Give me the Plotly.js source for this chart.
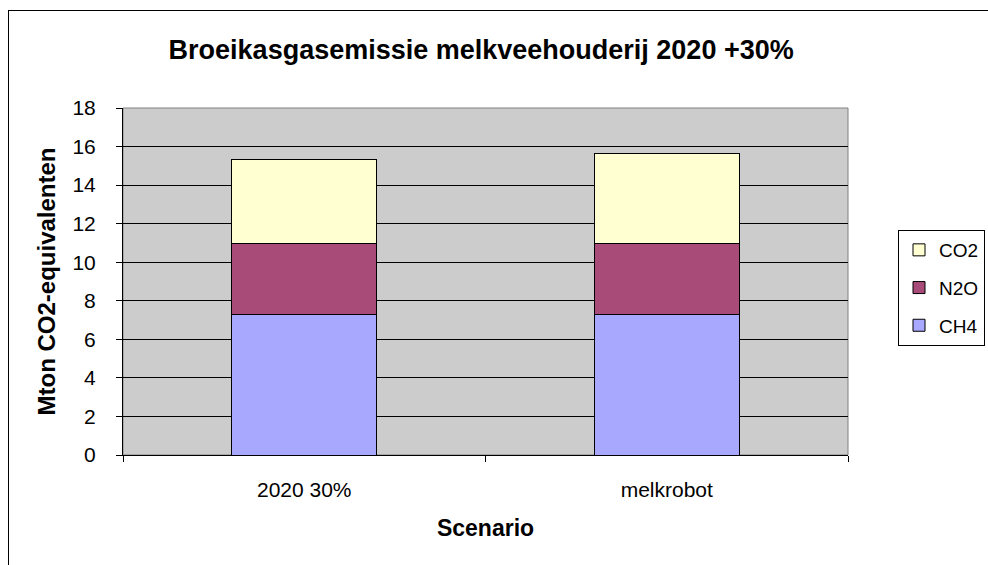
<!DOCTYPE html>
<html>
<head>
<meta charset="utf-8">
<script src="https://cdn.plot.ly/plotly-3.0.1.min.js"></script>
<style>
html,body{margin:0;padding:0;background:#fff;overflow:hidden;}
#wrap{position:relative;width:988px;height:565px;}
#chart{position:absolute;left:0;top:0;width:988px;height:565px;}
#frame{position:absolute;left:8px;top:10px;width:1200px;height:800px;border-left:1px solid #000;border-top:1px solid #000;pointer-events:none;}
</style>
</head>
<body>
<div id="wrap"><div id="chart"></div><div id="frame"></div></div>
<script>
const categories = ["2020 30%", "melkrobot"];
const ch4 = [7.27, 7.27];
const n2o = [3.71, 3.71];
const co2 = [4.34, 4.65];
const yTicks = [0, 2, 4, 6, 8, 10, 12, 14, 16, 18];

const FONT = "Liberation Sans, Arial, sans-serif";
const line = {color: "#000", width: 1};

const traces = [
  {type: "bar", name: "CH4", x: categories, y: ch4, marker: {color: "#A8A8FF", line: line}, legendgroup: "a", legendrank: 3},
  {type: "bar", name: "N2O", x: categories, y: n2o, marker: {color: "#A84B78", line: line}, legendgroup: "b", legendrank: 2},
  {type: "bar", name: "CO2", x: categories, y: co2, marker: {color: "#FFFFD2", line: line}, legendgroup: "c", legendrank: 1}
];

const layout = {
  width: 988, height: 565,
  margin: {l: 123, r: 140, t: 108, b: 110, autoexpand: false},
  paper_bgcolor: "#fff",
  plot_bgcolor: "#CCCCCC",
  barmode: "stack",
  bargap: 0.6,
  font: {family: FONT, color: "#000", size: 18},
  title: {text: "<b>Broeikasgasemissie melkveehouderij 2020 +30%</b>", x: 0.487, xanchor: "center", y: 0.912, yanchor: "middle", font: {size: 27, family: FONT}},
  xaxis: {
    type: "category", tickson: "boundaries", ticks: "outside", ticklen: 6, tickcolor: "#000",
    showline: true, linecolor: "#000", linewidth: 1, showgrid: false,
    tickfont: {size: 21}, ticklabelstandoff: 16,
    title: {text: "<b>Scenario</b>", font: {size: 23}, standoff: 19}
  },
  yaxis: {
    range: [0, 18], tickvals: yTicks, ticktext: yTicks.map(String), ticks: "outside", ticklen: 6, tickcolor: "#000",
    showline: true, linecolor: "#000", linewidth: 1, gridcolor: "#000", gridwidth: 1, zeroline: false,
    tickfont: {size: 21}, ticklabelstandoff: 16,
    title: {text: "<b>Mton CO2-equivalenten</b>", font: {size: 24}, standoff: 10}
  },
  legend: {
    xref: "container", x: 898 / 988, xanchor: "left",
    yref: "container", y: 1 - 288 / 565, yanchor: "middle",
    traceorder: "grouped", tracegroupgap: 10,
    bordercolor: "#000", borderwidth: 1, bgcolor: "#fff",
    font: {size: 19}, itemwidth: 30
  },
  shapes: [{type: "rect", xref: "paper", yref: "paper", x0: 0, x1: 1, y0: 0, y1: 1, line: {color: "#808080", width: 1}, layer: "below"}]
};

Plotly.newPlot("chart", traces, layout, {staticPlot: true, displayModeBar: false});
</script>
</body>
</html>
